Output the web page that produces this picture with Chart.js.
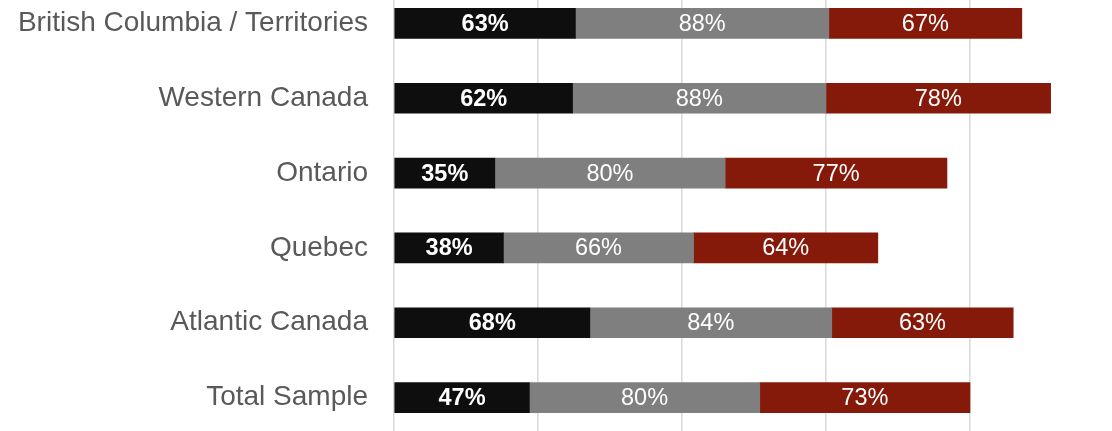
<!DOCTYPE html>
<html>
<head>
<meta charset="utf-8">
<script src="https://cdn.jsdelivr.net/npm/chart.js@4/dist/chart.umd.min.js"></script>
<style>
	html, body { margin: 0; padding: 0; background: #fff; overflow: hidden; width: 1112px; height: 431px; }
	#wrap { position: absolute; left: 0; top: -14px; width: 1114px; height: 449px; }
</style>
</head>
<body>
<div id="wrap"><canvas id="barChart"></canvas></div>
<script>
var categories = ['British Columbia / Territories', 'Western Canada', 'Ontario', 'Quebec', 'Atlantic Canada', 'Total Sample'];
var seriesA = [63, 62, 35, 38, 68, 47];
var seriesB = [88, 88, 80, 66, 84, 80];
var seriesC = [67, 78, 77, 64, 63, 73];
var xTicks = [0, 50, 100, 150, 200, 250];

// draws the % labels in the middle of each bar piece
var barLabels = {
	id: 'barLabels',
	afterDatasetsDraw(chart) {
		var ctx = chart.ctx;
		ctx.save();
		ctx.fillStyle = '#ffffff';
		ctx.textAlign = 'center';
		ctx.textBaseline = 'middle';
		chart.data.datasets.forEach(function (ds, i) {
			var meta = chart.getDatasetMeta(i);
			ctx.font = (i === 0 ? 'bold ' : '') + '23.5px "Liberation Sans", Arial, sans-serif';
			meta.data.forEach(function (bar, j) {
				var cx = (bar.x + bar.base) / 2;
				ctx.fillText(ds.data[j] + '%', cx, bar.y + 1);
			});
		});
		ctx.restore();
	}
};

// the plot runs past the top and bottom of the picture, so stretch the chart area
var fitArea = {
	id: 'fitArea',
	afterLayout(chart) {
		var a = chart.chartArea;
		a.top = 0;
		a.bottom = chart.height;
		var y = chart.scales.y;
		y.top = a.top; y.bottom = a.bottom; y.height = a.bottom - a.top;
		y.configure();
		var x = chart.scales.x;
		x.top = a.top; x.bottom = a.bottom;
	}
};

var ctx = document.getElementById('barChart');
var theChart = new Chart(ctx, {
	type: 'bar',
	data: {
		labels: categories,
		datasets: [
			{ label: 'A', data: seriesA, backgroundColor: '#0e0e0e' },
			{ label: 'B', data: seriesB, backgroundColor: '#7f7f7f' },
			{ label: 'C', data: seriesC, backgroundColor: '#861a0a' }
		]
	},
	options: {
		indexAxis: 'y',
		responsive: true,
		maintainAspectRatio: false,
		animation: false,
		layout: { padding: 0 },
		datasets: { bar: { barThickness: 30 } },
		plugins: {
			legend: { display: false },
			tooltip: { enabled: false }
		},
		scales: {
			x: {
				stacked: true,
				min: xTicks[0],
				max: xTicks[xTicks.length - 1],
				afterBuildTicks(scale) { scale.ticks = xTicks.map(function (v) { return { value: v }; }); },
				ticks: { display: false },
				grid: { color: '#d9d9d9', lineWidth: 1.5, drawTicks: false },
				border: { display: false }
			},
			y: {
				stacked: true,
				afterFit(scale) { scale.width = 394; },
				ticks: {
					color: '#595959',
					padding: 26,
					font: { family: '"Liberation Sans", Arial, sans-serif', size: 28 }
				},
				grid: { display: false, drawTicks: false },
				border: { display: false }
			}
		}
	},
	plugins: [barLabels, fitArea]
});
</script>
</body>
</html>
